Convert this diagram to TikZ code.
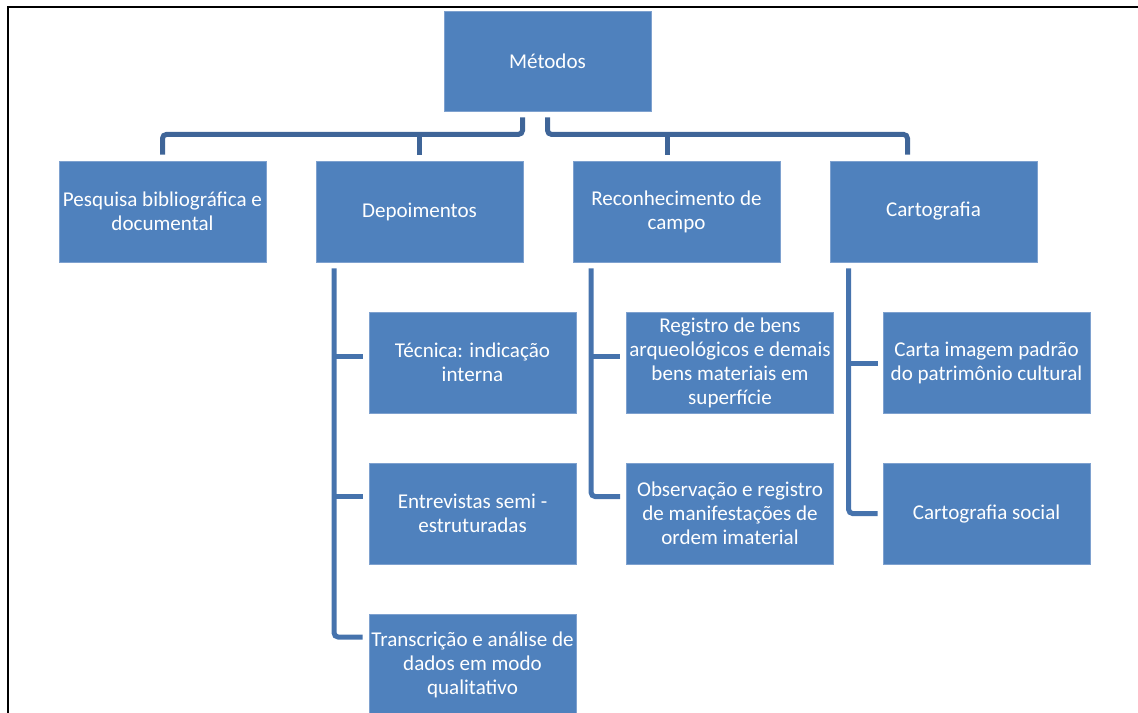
\documentclass[tikz,border=0pt]{standalone}
\usepackage{fontspec}
\setmainfont{Carlito}
\usetikzlibrary{calc}
\definecolor{boxblue}{HTML}{4F81BD}
\definecolor{boxedge}{HTML}{7EA1CF}
\definecolor{buscol}{HTML}{3F6598}
\definecolor{subcol}{HTML}{4673AD}
\begin{document}
\begin{tikzpicture}[x=0.75pt,y=-0.75pt,
  box/.style={draw=boxedge, line width=0.6pt, fill=boxblue, text=white,
    minimum width=155.25pt, minimum height=75.75pt, inner sep=0pt,
    align=center, font=\fontsize{15.8pt}{18pt}\selectfont},
  link/.style={draw=buscol, line width=3.75pt, rounded corners=3pt},
  sublink/.style={draw=subcol, line width=3.75pt, rounded corners=3pt}]
\useasboundingbox (0,0) rectangle (1138,713);
\draw [line width=1.5pt] (7.5,713) -- (7.5,7.5) -- (1138,7.5) ;

\node [box, minimum height=75pt] (met) at (547.5,61) {Métodos} ;

\node [box] (pes) at (162.5,211.5) {Pesquisa bibliográfica e\\documental} ;
\node [box] (dep) at (419.5,211.5) {Depoimentos} ;
\node [box] (rec) at (676.5,211.5) {Reconhecimento de\\campo} ;
\node [box] (car) at (933.5,211.5) {Cartografia} ;

\node [box] (tec) at (472.5,362.5) {Técnica: indicação\\interna} ;
\node [box] (ent) at (472.5,513.5) {Entrevistas semi -\\estruturadas} ;
\node [box] (tra) at (472.5,664.5) {Transcrição e análise de\\dados em modo\\qualitativo} ;

\node [box] (reg) at (730,362.5) {Registro de bens\\arqueológicos e demais\\bens materiais em\\superfície} ;
\node [box] (obs) at (730,513.5) {Observação e registro\\de manifestações de\\ordem imaterial} ;

\node [box] (cim) at (986.5,362.5) {Carta imagem padrão\\do patrimônio cultural} ;
\node [box] (cso) at (986.5,513.5) {Cartografia social} ;

% upper level
\coordinate (lbus) at ($(met.south)+(-25,6)$) ;
\coordinate (rbus) at ($(met.south)+(0,6)$) ;
\coordinate (recin) at ($(rec.north)+(-9,-6)$) ;
\draw [link] (lbus) -- ++(0,17) coordinate (lturn) -| ($(pes.north)+(0,-6)$) ;
\draw [link] ($(dep.north)+(0,-6)$) -- (dep.north |- lturn) ;
\draw [link] (rbus) -- ++(0,17) coordinate (rturn) -| ($(car.north)+(-26,-6)$) ;
\draw [link] (recin) -- (recin |- rturn) ;

% Depoimentos
\coordinate (depbus) at ($(dep.south west)+(18.5,6)$) ;
\coordinate (tecb) at ($(tec.west)+(-6,-6.5)$) ;
\coordinate (entb) at ($(ent.west)+(-6,-17.5)$) ;
\coordinate (trab) at ($(tra.west)+(-6,-27.5)$) ;
\draw [sublink] (depbus) |- (trab) ;
\draw [sublink] (depbus |- tecb) -- (tecb) ;
\draw [sublink] (depbus |- entb) -- (entb) ;

% Reconhecimento de campo
\coordinate (recbus) at ($(rec.south west)+(18.5,6)$) ;
\coordinate (regb) at ($(reg.west)+(-6,-6.5)$) ;
\coordinate (obsb) at ($(obs.west)+(-6,-17)$) ;
\draw [sublink] (recbus) |- (obsb) ;
\draw [sublink] (recbus |- regb) -- (regb) ;

% Cartografia
\coordinate (carbus) at ($(car.south west)+(19,6)$) ;
\coordinate (cimb) at ($(cim.west)+(-5,1)$) ;
\coordinate (csob) at ($(cso.west)+(-5,0)$) ;
\draw [sublink] (carbus) |- (csob) ;
\draw [sublink] (carbus |- cimb) -- (cimb) ;

\end{tikzpicture}
\end{document}
